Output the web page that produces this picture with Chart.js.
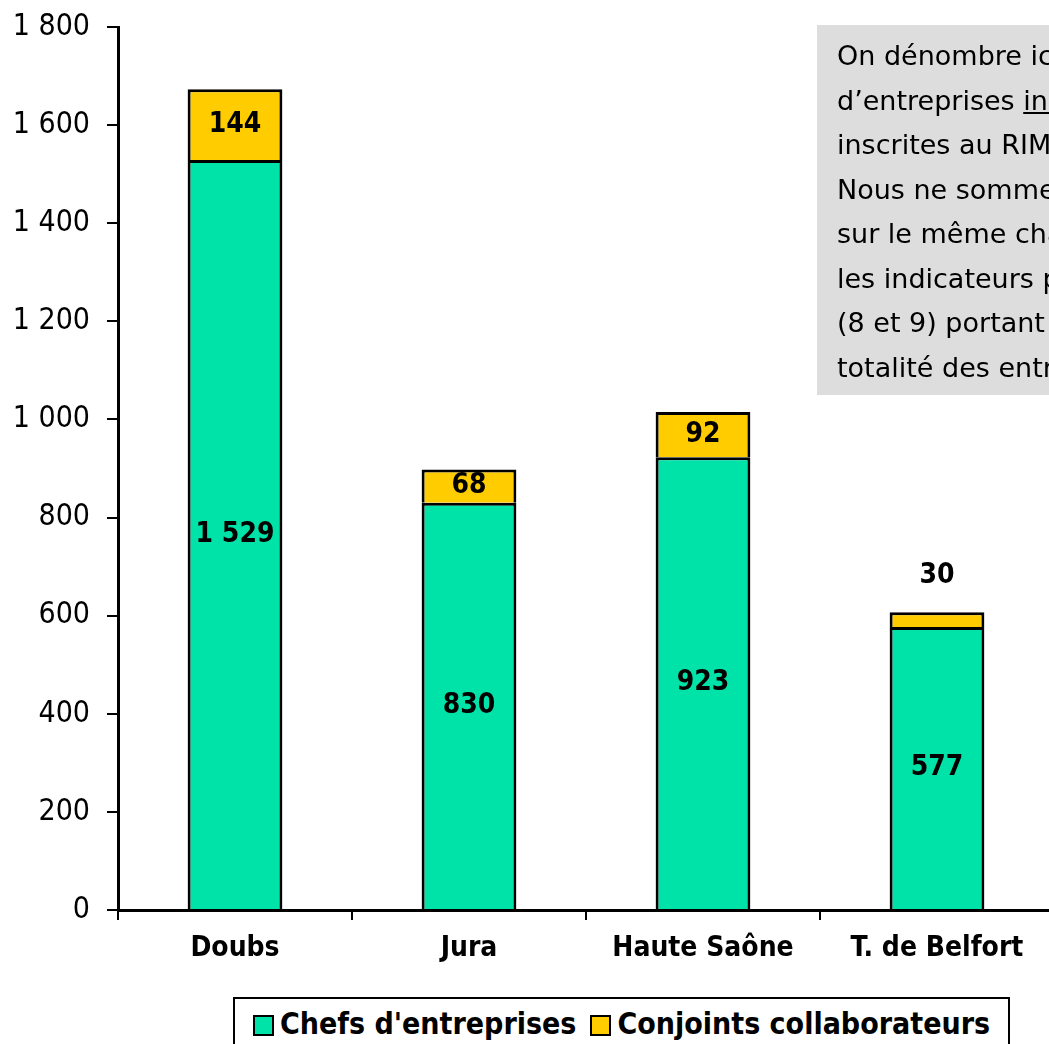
<!DOCTYPE html>
<html>
<head>
<meta charset="utf-8">
<script src="https://cdn.jsdelivr.net/npm/chart.js@4.4.0/dist/chart.umd.min.js"></script>
<style>
    html, body { margin: 0; padding: 0; background: #fff; overflow: hidden; width: 1049px; height: 1044px; }
    #wrap { position: absolute; left: 0; top: 0; width: 1240px; height: 1044px; }
    #note {
        position: absolute; left: 817px; top: 25px; width: 360px; height: 370px;
        background: #dddddd; box-sizing: border-box; padding: 9px 0 0 20px;
        font-family: "DejaVu Sans", sans-serif; font-size: 27px;
        line-height: 44.5px; color: #000; white-space: nowrap;
    }
    #legend {
        position: absolute; left: 233px; top: 997px; width: 777px; height: 52px;
        box-sizing: border-box; border: 2px solid #000; background: #fff;
        font-family: "DejaVu Sans Condensed", "DejaVu Sans", sans-serif; font-weight: bold;
        font-size: 30px; display: flex; align-items: center; justify-content: center; gap: 14px;
    }
    #legend span.sw { display: inline-block; width: 17px; height: 17px; border: 2px solid #000; margin-right: 6px; vertical-align: middle; }
</style>
</head>
<body>
<div id="wrap"><canvas id="chart"></canvas></div>
<div id="note">
    On dénombre ici le nombre<br>
    d’entreprises <u>individuelles</u><br>
    inscrites au RIM.<br>
    Nous ne sommes donc pas<br>
    sur le même champ que<br>
    les indicateurs précédents<br>
    (8 et 9) portant sur la<br>
    totalité des entreprises.
</div>
<div id="legend"></div>
<script>
document.addEventListener('DOMContentLoaded', function() {
    const categories = ['Doubs', 'Jura', 'Haute Saône', 'T. de Belfort'];
    const chefs = [1529, 830, 923, 577];
    const conjoints = [144, 68, 92, 30];
    const seriesNames = ["Chefs d'entreprises", 'Conjoints collaborateurs'];
    const seriesColors = ['#00e3a8', '#ffcc00'];

    const FONT = '"DejaVu Sans Condensed", "DejaVu Sans", sans-serif';

    // espace comme séparateur de milliers
    function fmt(v) {
        return String(v).replace(/\B(?=(\d{3})+(?!\d))/g, ' ');
    }

    // étiquettes de valeurs au centre des segments (au-dessus si trop petit)
    const valueLabels = {
        id: 'valueLabels',
        afterDatasetsDraw(chart) {
            const ctx = chart.ctx;
            ctx.save();
            ctx.font = 'bold 28px ' + FONT;
            ctx.fillStyle = '#000';
            ctx.textAlign = 'center';
            ctx.textBaseline = 'middle';
            chart.data.datasets.forEach((ds, i) => {
                chart.getDatasetMeta(i).data.forEach((bar, j) => {
                    const h = Math.abs(bar.base - bar.y);
                    let y = (bar.y + bar.base) / 2;
                    if (h < 30) y = bar.y - 37;
                    ctx.fillText(fmt(ds.data[j]), bar.x, y);
                });
            });
            ctx.restore();
        }
    };

    const ctx = document.getElementById('chart').getContext('2d');
    new Chart(ctx, {
        type: 'bar',
        data: {
            labels: categories,
            datasets: [{
                label: seriesNames[0],
                data: chefs,
                backgroundColor: seriesColors[0],
                borderColor: '#000',
                borderWidth: 3
            }, {
                label: seriesNames[1],
                data: conjoints,
                backgroundColor: seriesColors[1],
                borderColor: '#000',
                borderWidth: 3
            }]
        },
        options: {
            responsive: true,
            maintainAspectRatio: false,
            animation: false,
            layout: { padding: { top: 27, right: 186, bottom: 0, left: 0 } },
            datasets: { bar: { categoryPercentage: 1, barPercentage: 0.405 } },
            plugins: {
                legend: { display: false },
                tooltip: { enabled: false }
            },
            scales: {
                x: {
                    stacked: true,
                    grid: { drawOnChartArea: false, drawTicks: true, tickLength: 10, color: '#000', lineWidth: 2 },
                    border: { color: '#000', width: 3 },
                    ticks: { color: '#000', padding: 12, font: { family: FONT, size: 28, weight: 'bold' } },
                    afterFit: function(scale) { scale.height = 134; }
                },
                y: {
                    stacked: true,
                    min: 0,
                    max: 1800,
                    grid: { drawOnChartArea: false, drawTicks: true, tickLength: 11, color: '#000', lineWidth: 2 },
                    border: { color: '#000', width: 3 },
                    ticks: {
                        stepSize: 200,
                        color: '#000',
                        padding: 17,
                        font: { family: FONT, size: 30 },
                        callback: function(value) { return fmt(value); }
                    },
                    afterFit: function(scale) {
                        scale.width = 118;
                        scale.paddingTop = 0;
                        scale.paddingBottom = 0;
                    }
                }
            }
        },
        plugins: [valueLabels]
    });

    // légende HTML encadrée
    const legend = document.getElementById('legend');
    seriesNames.forEach((name, i) => {
        const item = document.createElement('div');
        item.innerHTML = '<span class="sw" style="background:' + seriesColors[i] + '"></span>' + name;
        legend.appendChild(item);
    });
});
</script>
</body>
</html>
